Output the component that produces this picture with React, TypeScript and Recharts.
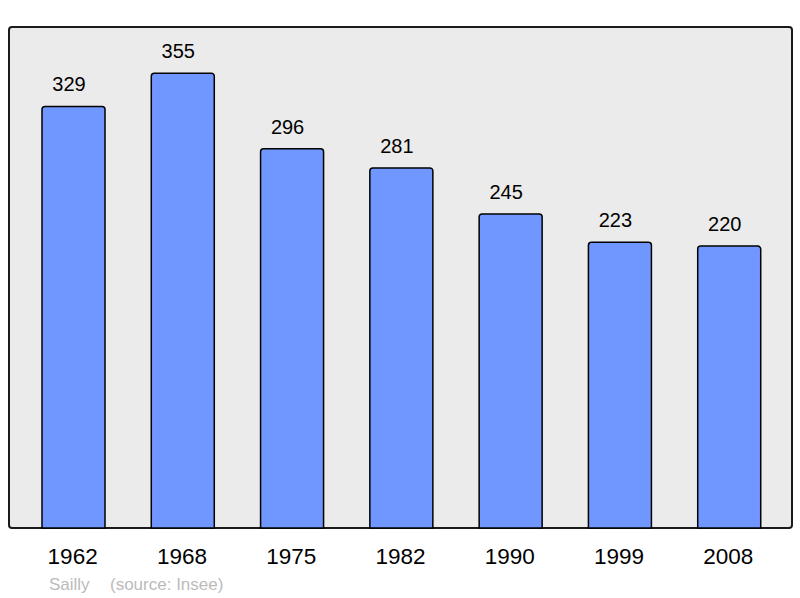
import React from "react";
import { BarChart, Bar, XAxis, YAxis, LabelList } from "recharts";

const years = ["1962", "1968", "1975", "1982", "1990", "1999", "2008"];
const population = [329, 355, 296, 281, 245, 223, 220];
const commune = "Sailly";
const source = "(source: Insee)";

const data = years.map((year, i) => ({ year, population: population[i] }));

const FONT = "'Liberation Sans', Arial, sans-serif";

const Tick = (props: any) => {
  const { x, y, payload } = props;
  return (
    <text x={x - 1} y={y + 36} textAnchor="middle" fontSize={22.5} fontFamily={FONT} fill="#000">
      {payload.value}
    </text>
  );
};

export default function App() {
  return (
    <div style={{ position: "fixed", left: 0, top: 0, width: 800, height: 598, background: "#fff" }}>
      <div
        style={{
          position: "absolute",
          left: 8,
          top: 26,
          width: 781,
          height: 499,
          background: "#ebebeb",
          border: "2px solid #1a1a1a",
          borderRadius: 4,
        }}
      />
      <div style={{ position: "absolute", left: 0, top: 0 }}>
        <BarChart
          width={800}
          height={598}
          data={data}
          margin={{ top: 27, right: 8, bottom: 40, left: 9 }}
          barSize={63}
        >
          <XAxis
            dataKey="year"
            height={30}
            axisLine={false}
            tickLine={false}
            tickSize={0}
            tickMargin={0}
            padding={{ left: 10, right: 8 }}
            tick={<Tick />}
            interval={0}
          />
          <YAxis hide domain={[0, 391]} />
          <Bar
            dataKey="population"
            fill="#7097ff"
            stroke="#000"
            strokeWidth={1.5}
            radius={[3, 3, 0, 0]}
            isAnimationActive={false}
          >
            <LabelList
              dataKey="population"
              position="top"
              offset={15}
              dx={-4.5}
              fill="#000"
              fontSize={20}
              fontFamily={FONT}
            />
          </Bar>
        </BarChart>
      </div>
      <div
        style={{
          position: "absolute",
          left: 49,
          top: 575,
          fontFamily: FONT,
          fontSize: 17,
          color: "#bbbbbb",
          whiteSpace: "pre",
        }}
      >
        {commune}
        <span style={{ position: "absolute", left: 61 }}>{source}</span>
      </div>
    </div>
  );
}
